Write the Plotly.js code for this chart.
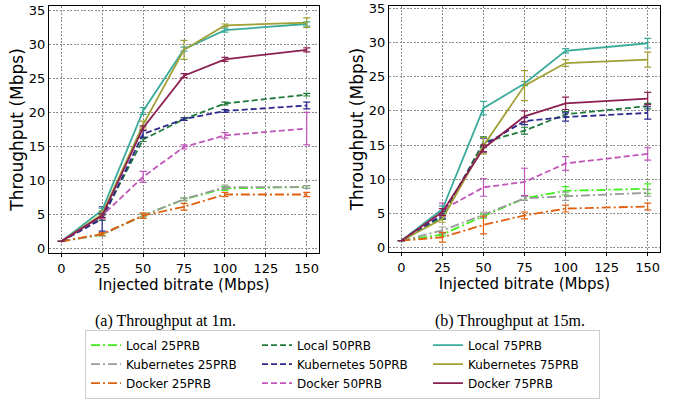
<!DOCTYPE html>
<html>
<head>
<meta charset="utf-8">
<script src="https://cdn.plot.ly/plotly-3.0.1.min.js"></script>
<style>html,body{margin:0;padding:0;background:#fff;}#chart{width:680px;height:404px;}</style>
</head>
<body>
<div id="chart"></div>
<script>
// ---- data ----
const bitrate = [0, 25, 50, 75, 100, 150];
const seriesNames = ["Local 25PRB", "Local 50PRB", "Local 75PRB",
                     "Kubernetes 25PRB", "Kubernetes 50PRB", "Kubernetes 75PRB",
                     "Docker 25PRB", "Docker 50PRB", "Docker 75PRB"];
const xTicks = [0, 25, 50, 75, 100, 125, 150];
const yTicks = [0, 5, 10, 15, 20, 25, 30, 35];

// Throughput at 1m
const m1_local25  = [1.0, 2.0, 4.8, 7.2, 8.8, 9.0];
const m1_local50  = [1.0, 4.5, 16.0, 19.0, 21.3, 22.6];
const m1_local75  = [1.0, 5.6, 20.2, 29.3, 32.1, 33.0];
const m1_kube25   = [1.0, 2.0, 4.8, 7.2, 9.0, 9.0];
const m1_kube50   = [1.0, 4.3, 16.8, 19.0, 20.2, 21.0];
const m1_kube75   = [1.0, 5.0, 18.2, 29.2, 32.8, 33.2];
const m1_docker25 = [1.0, 2.1, 4.8, 6.1, 7.9, 7.9];
const m1_docker50 = [1.0, 4.8, 10.5, 14.9, 16.6, 17.6];
const m1_docker75 = [1.0, 4.8, 17.7, 25.4, 27.8, 29.2];

const m1_local25_err  = [0, 0.2, 0.2, 0.2, 0.3, 0.2];
const m1_local50_err  = [0, 0.4, 0.3, 0.2, 0.2, 0.2];
const m1_local75_err  = [0, 0.3, 0.5, 0.3, 0.3, 0.3];
const m1_kube25_err   = [0, 0.2, 0.2, 0.2, 0.3, 0.2];
const m1_kube50_err   = [0, 1.8, 0.5, 0.2, 0.2, 0.5];
const m1_kube75_err   = [0, 0.5, 0.5, 1.4, 0.2, 0.7];
const m1_docker25_err = [0, 0.2, 0.4, 0.5, 0.3, 0.3];
const m1_docker50_err = [0, 0.5, 0.8, 0.3, 0.4, 2.4];
const m1_docker75_err = [0, 0.3, 0.3, 0.3, 0.3, 0.3];

// Throughput at 15m
const m15_local25  = [1.0, 1.9, 4.6, 7.2, 8.3, 8.6];
const m15_local50  = [1.0, 4.5, 15.4, 17.1, 19.5, 20.7];
const m15_local75  = [1.0, 5.6, 20.4, 24.0, 28.8, 29.9];
const m15_kube25   = [1.0, 2.5, 4.8, 7.2, 7.5, 8.0];
const m15_kube50   = [1.0, 4.8, 15.0, 18.5, 19.1, 19.7];
const m15_kube75   = [1.0, 4.2, 14.9, 23.7, 27.0, 27.5];
const m15_docker25 = [1.0, 1.5, 3.3, 4.7, 5.7, 6.0];
const m15_docker50 = [1.0, 5.5, 8.8, 9.6, 12.3, 13.7];
const m15_docker75 = [1.0, 5.2, 14.5, 19.2, 21.1, 21.8];

const m15_local25_err  = [0, 0.2, 0.3, 0.3, 0.6, 0.7];
const m15_local50_err  = [0, 0.4, 0.8, 0.5, 0.4, 0.4];
const m15_local75_err  = [0, 0.5, 1.0, 0.3, 0.3, 0.7];
const m15_kube25_err   = [0, 0.5, 0.4, 0.3, 0.6, 0.5];
const m15_kube50_err   = [0, 0.5, 1.0, 0.5, 0.6, 0.9];
const m15_kube75_err   = [0, 0.5, 1.2, 2.2, 0.5, 1.1];
const m15_docker25_err = [0, 0.7, 1.3, 0.5, 0.5, 0.5];
const m15_docker50_err = [0, 1.0, 1.3, 2.0, 1.0, 0.9];
const m15_docker75_err = [0, 0.5, 0.5, 0.8, 0.9, 0.9];

// ---- styles ----
const colors = ["#3df01c", "#1f7a3a", "#3aab9b",
                "#999999", "#2e2a8c", "#a0a035",
                "#e06010", "#c154b8", "#8b1f4f"];
const dashDot = "9px,3px,2px,3px";
const dashed = "6px,3px";
const dashes = [dashDot, dashed, "solid", dashDot, dashed, "solid", dashDot, dashed, "solid"];

const m1Series = [m1_local25, m1_local50, m1_local75, m1_kube25, m1_kube50, m1_kube75, m1_docker25, m1_docker50, m1_docker75];
const m1Err = [m1_local25_err, m1_local50_err, m1_local75_err, m1_kube25_err, m1_kube50_err, m1_kube75_err, m1_docker25_err, m1_docker50_err, m1_docker75_err];
const m15Series = [m15_local25, m15_local50, m15_local75, m15_kube25, m15_kube50, m15_kube75, m15_docker25, m15_docker50, m15_docker75];
const m15Err = [m15_local25_err, m15_local50_err, m15_local75_err, m15_kube25_err, m15_kube50_err, m15_kube75_err, m15_docker25_err, m15_docker50_err, m15_docker75_err];

// draw order so that 25PRB at bottom, 75PRB on top (as in reference)
const drawOrder = [0, 3, 6, 1, 4, 7, 2, 5, 8];

const traces = [];
function addSet(series, errs, xa, ya, showLegend) {
  drawOrder.forEach(i => {
    traces.push({
      type: "scatter", mode: "lines",
      x: bitrate, y: series[i],
      name: seriesNames[i],
      legendrank: i + 1,
      showlegend: showLegend,
      xaxis: xa, yaxis: ya,
      line: {color: colors[i], width: 1.8, dash: dashes[i]},
      error_y: {type: "data", array: errs[i], visible: true, color: colors[i], thickness: 1.2, width: 3.5}
    });
  });
}
addSet(m1Series, m1Err, "x", "y", true);
addSet(m15Series, m15Err, "x2", "y2", false);

const axisX = {
  range: [-7.5, 157.5], tickvals: xTicks, ticktext: xTicks.map(String),
  showline: true, mirror: true, linecolor: "#000", linewidth: 1.2,
  showgrid: true, gridcolor: "#8c8c8c", gridwidth: 1, griddash: "2px,1.5px",
  zeroline: false, ticks: "outside", ticklen: 3, tickcolor: "#000",
  tickfont: {size: 13, color: "#000"}, automargin: false,
  title: {text: "Injected bitrate (Mbps)", font: {size: 15, color: "#000"}, standoff: 2}
};
const axisY = {
  tickvals: yTicks, ticktext: yTicks.map(String),
  showline: true, mirror: true, linecolor: "#000", linewidth: 1.2,
  showgrid: true, gridcolor: "#8c8c8c", gridwidth: 1, griddash: "2px,1.5px",
  zeroline: false, ticks: "", ticklen: 0,
  tickfont: {size: 13, color: "#000"}, automargin: false,
  title: {text: "Throughput (Mbps)", font: {size: 17, color: "#000"}, standoff: 0}
};

const layout = {
  width: 680, height: 404,
  margin: {l: 49, r: 20, t: 6, b: 143},
  paper_bgcolor: "#fff", plot_bgcolor: "#fff",
  font: {family: "DejaVu Sans", color: "#000"},
  showlegend: true,
  xaxis: Object.assign({}, axisX, {domain: [0, 0.4419], anchor: "y"}),
  yaxis: Object.assign({}, axisY, {domain: [0, 1], range: [-0.71, 35.65], anchor: "x"}),
  xaxis2: Object.assign({}, axisX, {domain: [0.5565, 1], anchor: "y2"}),
  yaxis2: Object.assign({}, axisY, {domain: [0.004, 1], range: [-0.66, 35.35], anchor: "x2"}),
  legend: {
    orientation: "h", x: 0.0589, y: -0.31, xanchor: "left", yanchor: "top",
    entrywidth: 126, entrywidthmode: "pixels",
    bgcolor: "#fff", bordercolor: "#cccccc", borderwidth: 1,
    font: {size: 12, color: "#000"}, traceorder: "normal"
  },
  annotations: [
    {text: "(a) Throughput at 1m.", xref: "paper", yref: "paper", x: 0.19, y: -0.275,
     xanchor: "center", yanchor: "middle", showarrow: false,
     font: {family: "Liberation Serif", size: 16, color: "#000"}},
    {text: "(b) Throughput at 15m.", xref: "paper", yref: "paper", x: 0.7545, y: -0.275,
     xanchor: "center", yanchor: "middle", showarrow: false,
     font: {family: "Liberation Serif", size: 16, color: "#000"}}
  ]
};

Plotly.newPlot("chart", traces, layout, {displayModeBar: false, staticPlot: true});
</script>
</body>
</html>
